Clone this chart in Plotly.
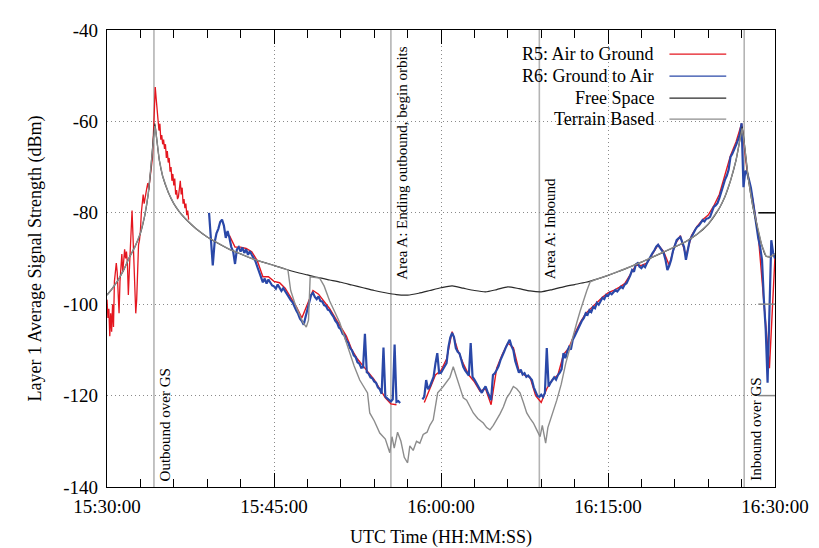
import pandas as pd
import plotly.graph_objects as go

DAY = "2013-01-01 "

# ---------------- data ----------------
# R5 (Air to Ground), first segment: 5-second samples starting 15:30:00
r5_a_start = "15:30:00"
r5_a_step_s = 5
r5_a = [
    -99.0, -103.0, -101.0, -107.0, -102.0, -106.0, -100.0, -105.0, -95.0, -92.0, -91.0, -93.0,
    -100.0, -102.0, -95.0, -92.0, -89.0, -93.0, -91.0, -88.0, -90.0, -88.5, -91.0, -98.0,
    -93.0, -88.0, -82.0, -79.5, -85.0, -90.0, -95.0, -102.0, -99.0, -90.0, -87.0, -86.0,
    -84.0, -80.0, -77.0, -76.0, -78.0, -76.5, -75.0, -74.5, -73.5, -75.0, -73.0, -71.0,
    -70.5, -68.0, -63.0, -57.0, -52.5, -55.0, -58.0, -60.0, -62.0, -60.5, -64.0, -63.0,
    -65.0, -64.0, -66.0, -65.0, -68.0, -66.5, -69.0, -68.0, -71.0, -70.0, -73.0, -71.5,
    -74.0, -72.5, -76.0, -75.0, -77.0, -76.5, -74.5, -73.0, -76.0, -74.5, -78.0, -77.0,
    -79.0, -78.0, -80.5, -79.5, -81.5,
]

# R5 (Air to Ground), second segment: 30-second samples starting 15:41:00
r5_b_start = "15:41:00"
r5_b_step_s = 30
r5_b = [
    -85.0, -87.5,      # 15:41
    -87.5, -87.8,      # 15:42
    -88.5, -90.5,      # 15:43
    -94.0, -94.0,      # 15:44
    -95.0, -95.3,      # 15:45
    -96.5, -98.5,      # 15:46
    -100.5, -103.0,    # 15:47
    -100.0, -97.0,     # 15:48
    -97.8, -99.5,      # 15:49
    -101.0, -103.0,    # 15:50
    -105.0, -107.0,    # 15:51
    -110.0, -112.0,    # 15:52
    -113.5, -115.0,    # 15:53
    -116.5, -118.5,    # 15:54
    -120.5, -121.8,    # 15:55
    -122.0, None,      # 15:56
    None, None,        # 15:57
    None, -121.5,      # 15:58
    -118.5, -115.5,    # 15:59
    -114.5, -112.0,    # 16:00
    -106.0, -110.0,    # 16:01
    -113.0, -115.5,    # 16:02
    -117.0, -119.0,    # 16:03
    -118.5, -122.0,    # 16:04
    -114.0, -111.0,    # 16:05
    -108.5, -109.5,    # 16:06
    -114.5, -115.5,    # 16:07
    -116.0, -120.0,    # 16:08
    -121.5, -118.5,    # 16:09
    -116.5, -115.5,    # 16:10
    -111.0, -109.5,    # 16:11
    -106.5, -104.0,    # 16:12
    -102.0, -100.8,    # 16:13
    -99.5, -98.5,      # 16:14
    -97.5, -97.0,      # 16:15
    -96.3, -95.5,      # 16:16
    -93.5, -91.5,      # 16:17
    -91.5, -91.0,      # 16:18
    -89.0, -87.0,      # 16:19
    -88.5, -91.5,      # 16:20
    -87.0, -85.0,      # 16:21
    -89.5, -85.0,      # 16:22
    -83.0, -81.5,      # 16:23
    -80.5, -78.5,      # 16:24
    -76.0, -72.0,      # 16:25
    -67.5, -64.5,      # 16:26
    -60.5, -71.0,      # 16:27
    -77.0, -85.0,      # 16:28
    -100.0, -114.0,    # 16:29
    -89.5,             # 16:30
]

# R6 (Ground to Air): 10-second samples starting 15:39:10
r6_start = "15:39:10"
r6_step_s = 10
r6 = [
    -80.0, -85.5, -91.5, -86.5, -84.5,                  # 15:39
    -83.5, -82.0, -81.5, -82.8, -85.5, -84.0,           # 15:40
    -85.5, -87.5, -88.5, -91.2, -88.0, -87.5,           # 15:41
    -88.5, -87.6, -88.8, -88.0, -89.2, -88.4,           # 15:42
    -89.2, -89.8, -90.6, -91.8, -92.8, -94.2,           # 15:43
    -95.2, -94.4, -95.5, -94.6, -95.3, -95.9,           # 15:44
    -96.1, -96.6, -95.7, -96.5, -97.1, -96.5,           # 15:45
    -97.2, -97.6, -98.3, -99.1, -99.6, -100.7,          # 15:46
    -101.4, -102.1, -103.2, -103.7, -104.5, -102.8,     # 15:47
    -101.0, -99.2, -98.0, -97.5, -98.4, -98.9,          # 15:48
    -98.3, -99.3, -99.4, -100.2, -100.4, -101.2,        # 15:49
    -101.4, -102.1, -102.7, -103.6, -104.1, -105.1,     # 15:50
    -105.5, -106.5, -106.8, -108.0, -108.4, -109.6,     # 15:51
    -110.1, -111.2, -111.6, -112.7, -113.0, -113.9,     # 15:52
    -113.8, -106.5, -114.9, -115.2, -116.0, -116.2,     # 15:53
    -116.9, -117.2, -118.2, -118.6, -119.6, -109.5,     # 15:54
    -120.2, -120.6, -120.9, -121.3, -120.8, -108.8,     # 15:55
    -121.4, -121.2, -121.6, None, None, None,           # 15:56
    None, None, None, -121.3, None, None,               # 15:57
    None, None, -120.8, -120.2, -116.6, -118.6,         # 15:58
    -118.0, -116.8, -115.9, -113.0, -110.7, -115.1,     # 15:59
    -115.0, -114.3, -113.6, -112.9, -109.4, -107.3,     # 16:00
    -106.3, -107.2, -109.6, -110.4, -110.8, -112.6,     # 16:01
    -113.7, -114.5, -115.0, -115.6, -108.5, -115.9,     # 16:02
    -116.5, -117.2, -117.8, -118.6, -119.4, -118.6,     # 16:03
    -118.0, -119.1, -120.0, -121.0, -115.5, -115.1,     # 16:04
    -114.4, -113.6, -112.3, -111.5, -110.4, -109.4,     # 16:05
    -108.5, -107.8, -109.2, -110.1, -112.4, -113.7,     # 16:06
    -115.0, -114.3, -115.4, -115.1, -115.9, -115.6,     # 16:07
    -116.2, -116.6, -118.2, -119.4, -120.1, -120.3,     # 16:08
    -119.8, -120.3, -119.4, -109.6, -118.0, -117.2,     # 16:09
    -116.6, -116.0, -116.5, -115.5, -115.0, -114.2,     # 16:10
    -110.7, -111.8, -110.4, -109.4, -109.9, -107.8,     # 16:11
    -107.0, -106.1, -105.0, -104.2, -103.6, -103.0,     # 16:12
    -102.0, -102.3, -101.3, -101.7, -100.6, -100.9,     # 16:13
    -99.7, -100.1, -99.2, -98.6, -98.9, -98.0,          # 16:14
    -98.2, -97.5, -97.8, -97.3, -96.9, -97.2,           # 16:15
    -96.6, -96.2, -96.5, -95.7, -95.4, -94.6,           # 16:16
    -93.7, -92.5, -92.9, -91.3, -91.0, -91.8,           # 16:17
    -92.1, -91.5, -91.9, -91.0, -90.2, -89.6,           # 16:18
    -88.8, -88.2, -87.4, -87.0, -87.6, -88.3,           # 16:19
    -88.8, -90.3, -92.5, -91.6, -90.3, -88.4,           # 16:20
    -87.2, -86.0, -85.6, -85.3, -86.4, -87.5,           # 16:21
    -90.3, -88.2, -86.1, -85.3, -84.4, -83.7,           # 16:22
    -83.1, -82.8, -82.2, -81.6, -81.9, -81.3,           # 16:23
    -81.2, -80.9, -79.8, -78.7, -78.4, -77.9,           # 16:24
    -76.8, -75.7, -74.2, -72.8, -71.9, -70.6,           # 16:25
    -67.8, -67.1, -66.3, -65.2, -64.1, -62.9,           # 16:26
    -60.4, -74.4, -70.8, -71.3, -72.8, -74.5,           # 16:27
    -77.2, -80.1, -83.1, -85.6, -87.5, -90.3,           # 16:28
    -99.0, -105.6, -117.2, -103.5, -86.0, -88.8,        # 16:29
    -90.0,                                              # 16:30
]

# Model curves: minutes after 15:30:00 and predicted level (dBm)
free_space_min = [0, 0.5, 1, 1.5, 2, 2.5, 3, 3.4, 3.7, 3.95, 4.15, 4.3, 4.45, 4.7, 5, 5.5, 6, 6.5,
                  7, 7.5, 8, 9, 10, 11, 12, 13, 14, 15, 16, 17, 18, 19, 20, 21, 22, 23, 24, 25,
                  26, 27, 28, 29, 30, 31, 32, 33, 34, 35, 36, 37, 38, 39, 40, 41, 42, 43, 44, 45,
                  46, 47, 48, 49, 50, 51, 52, 53, 54, 55, 55.5, 56, 56.5, 56.85, 57.05, 57.3,
                  57.6, 58, 58.4, 58.8, 59.2, 59.6, 60]
free_space_dbm = [-98, -96.5, -94.7, -92.5, -89.8, -87.5, -84.5, -80.5, -76, -70, -64, -60.5, -63.5,
                  -68.5, -72, -75.5, -78, -79.8, -81.2, -82.4, -83.5, -85.3, -86.7, -88, -89, -90,
                  -90.8, -91.5, -92.3, -93, -93.6, -94.2, -94.7, -95.2, -95.8, -96.4, -97, -97.5,
                  -97.9, -98, -97.6, -97, -96.4, -96, -96.5, -97, -97.3, -96.8, -96.2, -96.6, -97.1,
                  -97.3, -96.8, -96.2, -95.7, -95.2, -94.5, -93.7, -92.8, -91.8, -90.8, -89.7,
                  -88.6, -87.5, -86.3, -84.7, -82.5, -79, -76.5, -73, -68.5, -64, -61.2, -66,
                  -72.5, -78.5, -83, -87, -89.5, -89.6, -89]

terrain_min = [0, 0.5, 1, 1.5, 2, 2.5, 3, 3.4, 3.7, 3.95, 4.15, 4.3, 4.45, 4.7, 5, 5.5, 6, 6.5,
               7, 7.5, 8, 9, 10, 11, 12, 13, 14, 15, 16, 16.25, 16.5, 16.9, 17.3, 17.6, 17.9,
               18.1, 18.25, 19.1, 19.5, 20.0, 20.9, 21.6, 22.2, 22.7, 23.4, 23.6, 24.0, 24.5,
               25.0, 25.4, 25.6, 25.8, 26.1, 26.4, 26.7, 27.0, 27.2, 27.5, 27.8, 28.1, 28.4,
               28.75, 29.0, 29.3, 29.7, 30.2, 30.8, 31.1, 31.4, 31.7, 32.0, 32.3, 32.6, 32.9,
               33.3, 33.8, 34.1, 34.4, 34.7, 35.0, 35.3, 35.6, 35.9, 36.2, 36.5, 36.8, 37.1,
               37.4, 37.7, 38.0, 38.3, 38.6, 38.9, 39.1, 39.4, 39.6, 39.8, 40.1, 40.4, 40.8,
               41.2, 41.6, 41.9, 42.2, 42.5, 42.8, 43.1, 43.4, 44, 45, 46, 47, 48, 49, 50, 51,
               52, 53, 54, 55, 55.5, 56, 56.5, 56.85, 57.05, 57.3, 57.6, 58, 58.4, 58.8, 59.2,
               59.6, 60]
terrain_dbm = [-98, -96.5, -94.7, -92.5, -89.8, -87.5, -84.5, -80.5, -76, -70, -64, -61, -63.5,
               -68.5, -72, -75.5, -78, -79.8, -81.2, -82.4, -83.5, -85.3, -86.7, -88, -89, -90,
               -90.8, -91.5, -92.3, -92.5, -97, -100, -102.3, -104, -105, -103.5, -94, -94.3,
               -96, -99.3, -104, -109.4, -113.5, -116.6, -119.4, -123.8, -125.5, -128.2,
               -129.5, -132.5, -129, -131.5, -128, -130, -133.5, -134.7, -131, -132, -130,
               -130.4, -128.5, -128, -126.5, -125.3, -119.4, -118, -116, -113.7, -116, -118,
               -120.5, -121, -122.5, -123.8, -125, -126, -127, -127.5, -126.5, -125.3, -124,
               -122.5, -120.5, -119.4, -118, -118.5, -119.4, -121.5, -123.8, -125, -126,
               -127.5, -129, -126.5, -130.4, -127, -125.5, -123.5, -121, -117.5, -113, -109.4,
               -106.5, -104, -101.5, -99, -97, -95.1, -94.5, -93.7, -92.8, -91.8, -90.8, -89.7,
               -88.6, -87.5, -86.3, -84.7, -82.5, -79, -76.5, -73, -68.5, -64, -61.5, -66,
               -72.5, -78.5, -83, -87, -89.5, -89.6, -89]

# Flight events
event_times = ["15:34:13", "15:55:30", "16:08:50", "16:27:14"]
event_labels = ["Outbound over GS", "Area A: Ending outbound, begin orbits",
                "Area A: Inbound", "Inbound over GS"]
event_label_at_top = [False, True, True, False]

series_names = ["R5: Air to Ground", "R6: Ground to Air", "Free Space", "Terrain Based"]

y_tick_vals = [-140, -120, -100, -80, -60, -40]
y_tick_text = ["-140", "-120", "-100", "-80", "-60", "-40"]

# ---------------- build ----------------
FONT = "Liberation Serif"
C_RED = "#e4161f"
C_BLUE = "#2a48a8"
C_FREE = "#2a2a2a"
C_TERR = "#8c8c8c"
series_colors = [C_RED, C_BLUE, C_FREE, C_TERR]
GRID_DASH = "1px,3px"

base = pd.Timestamp(DAY + "15:30:00")


def sampled(start, step_s, values):
    return pd.date_range(DAY + start, periods=len(values), freq=f"{step_s}s")


def from_minutes(mins):
    return base + pd.to_timedelta(mins, unit="min")


fig = go.Figure()
fig.add_trace(go.Scatter(x=sampled(r5_a_start, r5_a_step_s, r5_a), y=r5_a, mode="lines",
                         line=dict(color=C_RED, width=1.3), showlegend=False))
fig.add_trace(go.Scatter(x=sampled(r5_b_start, r5_b_step_s, r5_b), y=r5_b, mode="lines",
                         line=dict(color=C_RED, width=1.4), showlegend=False))
fig.add_trace(go.Scatter(x=sampled(r6_start, r6_step_s, r6), y=r6, mode="lines",
                         line=dict(color=C_BLUE, width=2.2), showlegend=False))
fig.add_trace(go.Scatter(x=from_minutes(free_space_min), y=free_space_dbm, mode="lines",
                         line=dict(color=C_FREE, width=1.2, shape="spline", smoothing=0.6),
                         showlegend=False))
fig.add_trace(go.Scatter(x=from_minutes(terrain_min), y=terrain_dbm, mode="lines",
                         line=dict(color=C_TERR, width=1.4), showlegend=False))

shapes = []
annotations = []
for t, lab, top in zip(event_times, event_labels, event_label_at_top):
    xt = DAY + t
    shapes.append(dict(type="line", xref="x", yref="paper", x0=xt, x1=xt, y0=0, y1=1,
                       line=dict(color="#b4b4b4", width=1.6), layer="below"))
    annotations.append(dict(x=xt, xref="x", y=0.45 if top else 0, yref="paper",
                            text=lab, textangle=-90, showarrow=False,
                            xanchor="left", yanchor="bottom", xshift=1,
                            yshift=0 if top else 4,
                            font=dict(family=FONT, size=15, color="black")))

# right-side y ticks (mirror ticks)
for yv, col in [(-80, "black"), (-100, "#888888"), (-120, "#888888")]:
    shapes.append(dict(type="line", xref="paper", yref="y", x0=0.975, x1=1.0, y0=yv, y1=yv,
                       line=dict(color=col, width=1.5)))

# gnuplot-style legend: text right-aligned, sample line to the right
leg_y = [0.947, 0.899, 0.851, 0.805]
for name, col, yy in zip(series_names, series_colors, leg_y):
    annotations.append(dict(x=0.822, xref="paper", y=yy, yref="paper", text=name,
                            showarrow=False, xanchor="right", yanchor="middle",
                            font=dict(family=FONT, size=18, color="black")))
    shapes.append(dict(type="line", xref="paper", yref="paper", x0=0.842, x1=0.927,
                       y0=yy, y1=yy, line=dict(color=col, width=1.3)))

# The page adds an 8px body margin, so the figure is 811x540 and offsets are reduced by 8px.
fig.update_layout(
    width=811, height=540,
    margin=dict(l=99, r=44, t=22, b=61, autoexpand=False),
    paper_bgcolor="white", plot_bgcolor="white",
    font=dict(family=FONT, size=19, color="black"),
    shapes=shapes, annotations=annotations, showlegend=False,
    xaxis=dict(
        type="date", automargin=False,
        range=[DAY + "15:30:00", DAY + "16:30:00"],
        tick0=DAY + "15:30:00", dtick=15 * 60 * 1000,
        tickformat="%H:%M:%S",
        ticks="inside", ticklen=14, tickwidth=1.2, tickcolor="black",
        showline=True, linecolor="black", linewidth=1.3, mirror="allticks",
        showgrid=True, gridcolor="#8a8a8a", griddash=GRID_DASH, gridwidth=1,
        zeroline=False,
        minor=dict(dtick=3 * 60 * 1000, ticks="inside", ticklen=8, tickcolor="black",
                   showgrid=False),
        ticklabelstandoff=2,
        tickfont=dict(family=FONT, size=19),
        title=dict(text="UTC Time (HH:MM:SS)", font=dict(family=FONT, size=18), standoff=14),
    ),
    yaxis=dict(
        automargin=False,
        range=[-140, -40], tickmode="array", tickvals=y_tick_vals, ticktext=y_tick_text,
        ticks="", showline=True, linecolor="black", linewidth=1.3, mirror=True,
        showgrid=True, gridcolor="#8a8a8a", griddash=GRID_DASH, gridwidth=1,
        zeroline=False,
        ticklabelstandoff=4,
        tickfont=dict(family=FONT, size=19),
        title=dict(text="Layer 1 Average Signal Strength (dBm)",
                   font=dict(family=FONT, size=18), standoff=16),
    ),
)

fig.write_html("out.html")
